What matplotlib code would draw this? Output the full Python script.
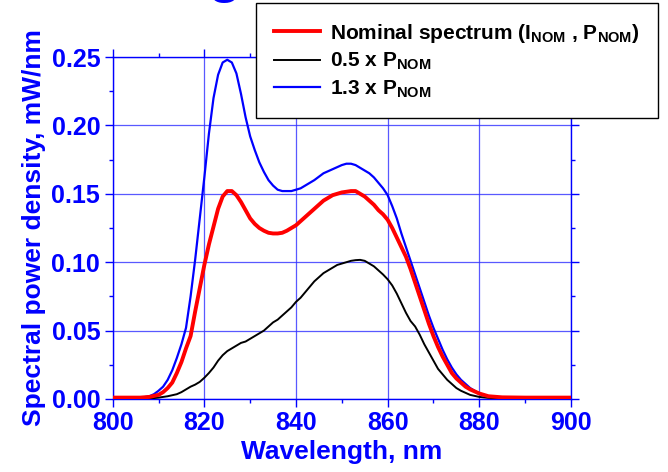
import matplotlib
matplotlib.use("Agg")
import matplotlib.pyplot as plt
from matplotlib.ticker import MultipleLocator

plt.rcParams["font.family"] = ["Liberation Sans", "DejaVu Sans"]
plt.rcParams["font.weight"] = "bold"
plt.rcParams["mathtext.fontset"] = "custom"
plt.rcParams["mathtext.rm"] = "Liberation Sans:bold"
plt.rcParams["mathtext.bf"] = "Liberation Sans:bold"
plt.rcParams["mathtext.default"] = "bf"

# nominal spectrum (red)
wl_nom = [800, 806, 808, 810, 811, 812, 813, 814, 815, 816, 817, 818, 819, 820,
          821, 822, 823, 824, 825, 826, 827, 828, 829, 830, 831, 832, 833, 834,
          835, 836, 837, 838, 839, 840, 842, 844, 846, 848, 850, 852, 853, 854,
          855, 856, 857, 858, 859, 860, 861, 862, 863, 864, 865, 866, 867, 868,
          869, 870, 871, 872, 873, 874, 875, 876, 877, 878, 880, 882, 885, 890, 900]
p_nom = [0.001, 0.001, 0.0015, 0.003, 0.005, 0.008, 0.012, 0.019, 0.027, 0.037,
         0.046, 0.064, 0.081, 0.098, 0.113, 0.126, 0.139, 0.148, 0.152, 0.152,
         0.149, 0.144, 0.138, 0.132, 0.128, 0.125, 0.123, 0.1215, 0.121, 0.121,
         0.1215, 0.123, 0.125, 0.127, 0.133, 0.139, 0.145, 0.149, 0.151, 0.152,
         0.152, 0.150, 0.148, 0.145, 0.142, 0.138, 0.135, 0.131, 0.125, 0.118,
         0.111, 0.104, 0.095, 0.085, 0.075, 0.065, 0.055, 0.046, 0.038, 0.031,
         0.025, 0.019, 0.015, 0.012, 0.009, 0.007, 0.004, 0.002, 0.0012, 0.001, 0.001]

# 0.5 x P_NOM (black)
wl_half = [800, 808, 810, 812, 814, 815, 816, 817, 818, 819, 820, 821, 822, 823,
           824, 825, 826, 827, 828, 829, 830, 831, 832, 833, 834, 835, 836, 837,
           838, 839, 840, 841, 842, 843, 844, 845, 846, 847, 848, 849, 850, 851,
           852, 853, 854, 855, 856, 857, 858, 859, 860, 861, 862, 863, 864, 865,
           866, 867, 868, 869, 870, 871, 872, 873, 874, 875, 876, 878, 880, 882,
           885, 900]
p_half = [0.0, 0.0003, 0.001, 0.002, 0.0035, 0.005, 0.007, 0.009, 0.0105, 0.0125,
          0.0155, 0.019, 0.023, 0.028, 0.032, 0.035, 0.037, 0.039, 0.041, 0.042,
          0.044, 0.046, 0.048, 0.050, 0.053, 0.056, 0.058, 0.061, 0.064, 0.067,
          0.071, 0.074, 0.078, 0.082, 0.086, 0.089, 0.092, 0.094, 0.096, 0.098,
          0.099, 0.100, 0.101, 0.1015, 0.1017, 0.101, 0.099, 0.097, 0.094, 0.091,
          0.0875, 0.083, 0.077, 0.070, 0.063, 0.057, 0.053, 0.047, 0.040, 0.034,
          0.028, 0.022, 0.018, 0.014, 0.011, 0.008, 0.006, 0.003, 0.0015, 0.0008,
          0.0003, 0.0]

# 1.3 x P_NOM (blue)
wl_high = [800, 804, 806, 808, 809, 810, 811, 812, 813, 814, 815, 816, 817, 818,
           819, 820, 821, 822, 823, 824, 825, 826, 827, 828, 829, 830, 831, 832,
           833, 834, 835, 836, 837, 838, 839, 840, 841, 842, 844, 846, 848, 850,
           851, 852, 853, 854, 855, 856, 857, 858, 859, 860, 861, 862, 863, 864,
           865, 866, 867, 868, 869, 870, 871, 872, 873, 874, 875, 876, 877, 878,
           880, 882, 885, 890, 900]
p_high = [0.0, 0.0003, 0.0008, 0.002, 0.0035, 0.006, 0.009, 0.014, 0.021, 0.030,
          0.040, 0.052, 0.075, 0.102, 0.132, 0.162, 0.194, 0.220, 0.237, 0.246,
          0.248, 0.246, 0.238, 0.223, 0.206, 0.192, 0.182, 0.173, 0.166, 0.160,
          0.156, 0.153, 0.152, 0.152, 0.152, 0.153, 0.154, 0.156, 0.160, 0.165,
          0.168, 0.171, 0.172, 0.172, 0.171, 0.169, 0.167, 0.165, 0.162, 0.158,
          0.154, 0.149, 0.141, 0.132, 0.121, 0.111, 0.101, 0.091, 0.081, 0.071,
          0.061, 0.052, 0.044, 0.036, 0.029, 0.023, 0.018, 0.014, 0.011, 0.008,
          0.004, 0.002, 0.0008, 0.0003, 0.0]

fig = plt.figure(figsize=(6.68, 4.72), dpi=100)
ax = fig.add_axes([0.1687, 0.1547, 0.686, 0.7245])

ax.plot(wl_nom, p_nom, color="red", lw=2.8, label=r"Nominal spectrum (I$_{NOM}$ , P$_{NOM}$)", zorder=4)
ax.plot(wl_half, p_half, color="black", lw=1.4, label=r"0.5 x P$_{NOM}$", zorder=3)
ax.plot(wl_high, p_high, color="blue", lw=1.6, label=r"1.3 x P$_{NOM}$", zorder=3)

ax.set_xlim(800, 900)
ax.set_ylim(0, 0.25)
ax.xaxis.set_major_locator(MultipleLocator(20))
ax.xaxis.set_minor_locator(MultipleLocator(10))
ax.yaxis.set_major_locator(MultipleLocator(0.05))
ax.yaxis.set_minor_locator(MultipleLocator(0.025))
ax.yaxis.set_major_formatter(plt.FormatStrFormatter("%.2f"))

ax.grid(True, which="major", color="#3030ff", lw=0.9, alpha=0.8)
for s in ax.spines.values():
    s.set_color("blue")
    s.set_linewidth(1.0)
ax.tick_params(which="both", direction="out", colors="blue", top=True, right=True,
               labelsize=18)
ax.tick_params(which="major", length=6, width=1, pad=3)
ax.tick_params(which="minor", length=3, width=1)
for lab in ax.get_xticklabels() + ax.get_yticklabels():
    lab.set_fontweight("bold")

ax.set_xlabel("Wavelength, nm", color="blue", fontsize=19, fontweight="bold", labelpad=3)
ax.set_ylabel("Spectral power density, mW/nm", color="blue", fontsize=19,
              fontweight="bold", labelpad=4)

leg = fig.legend(loc="upper right", bbox_to_anchor=(0.985, 0.994), fontsize=15,
                 frameon=True, fancybox=False, edgecolor="black", framealpha=1,
                 handlelength=2.2, handletextpad=0.45, borderpad=0.9,
                 labelspacing=0.3, borderaxespad=0)
leg.get_frame().set_linewidth(1.0)
leg.set_zorder(10)

# clipped title glyph at the very top
fig.text(0.337, 1.0184, "g", color="blue", fontsize=40, fontweight="bold",
         ha="center", va="baseline")

fig.savefig("out.png", dpi=100)
